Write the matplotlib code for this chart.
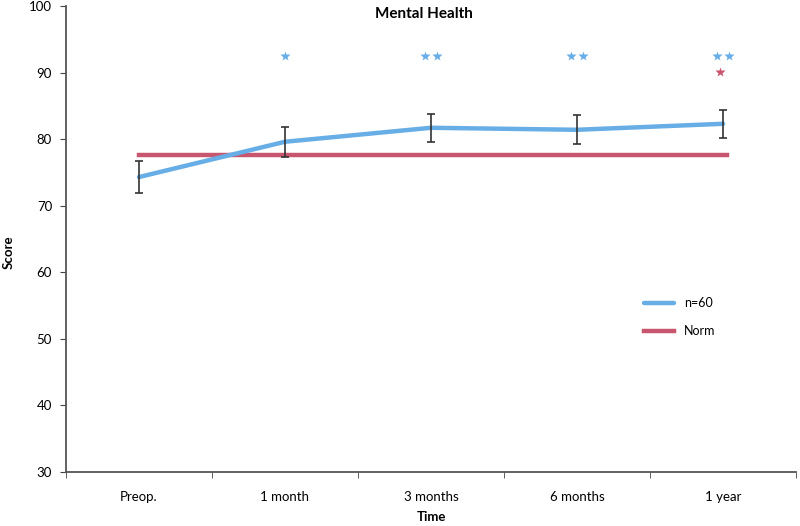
# plot

import matplotlib
matplotlib.use("Agg")
from matplotlib import pyplot as plt

plt.rcParams['font.family'] = ['Lato', 'DejaVu Sans']

categories = ["Preop.", "1 month", "3 months", "6 months", "1 year"]
scores = [74.3, 79.6, 81.7, 81.4, 82.3]
errors = [2.4, 2.25, 2.1, 2.15, 2.1]
norm_value = 77.6

# significance stars: (category index, number of stars)
blue_stars = [(1, 1), (2, 2), (3, 2), (4, 2)]
blue_star_y = 92.5
red_stars = [(4, 1)]
red_star_y = 90.1

blue = "#68aee6"
red = "#c9566f"

W, H = 800, 526
fig = plt.figure(figsize=(W / 100, H / 100), dpi=100)
ax = fig.add_axes([0.0825, 0.1027, 0.9125, 0.886])

x = list(range(len(categories)))
ax.plot(x, scores, color=blue, lw=3.2, label="n=60", solid_capstyle="round", zorder=3)
ax.errorbar(x, scores, yerr=errors, fmt="none", ecolor="#333333", elinewidth=1.2,
            capsize=3, capthick=1.2, zorder=4)
ax.plot([x[0], x[-1] + 0.03], [norm_value, norm_value], color=red, lw=3.2,
        label="Norm", zorder=2)

for i, n in blue_stars:
    offs = [0] if n == 1 else [-0.04, 0.04]
    for o in offs:
        ax.plot(i + o, blue_star_y, marker="*", color=blue, ms=7, mec="none")
for i, n in red_stars:
    ax.plot(i - 0.02, red_star_y, marker="*", color=red, ms=7, mec="none")

ax.set_xlim(-0.5, 4.5)
ax.set_ylim(30, 100)
ax.set_yticks(range(30, 101, 10))
ax.set_xticks(x)
ax.set_xticklabels(categories, fontsize=9.5)
ax.set_xticks([i + 0.5 for i in range(-1, 5)], minor=True)
ax.tick_params(axis="x", which="major", length=0, pad=14)
ax.tick_params(axis="x", which="minor", length=4, direction="out", color="#444444")
ax.tick_params(axis="y", length=4, direction="out", labelsize=9.5, color="#444444", pad=6)

for s in ["top", "right"]:
    ax.spines[s].set_visible(False)
for s in ["left", "bottom"]:
    ax.spines[s].set_color("#555555")
    ax.spines[s].set_linewidth(1.3)

fig.text(424 / W, 1 - 14 / H, "Mental Health", fontsize=11, fontweight="bold",
         ha="center", va="center")
fig.text(431 / W, 1 - 517 / H, "Time", fontsize=9.5, fontweight="bold",
         ha="center", va="center")
fig.text(9 / W, 1 - 252 / H, "Score", fontsize=9.5, fontweight="bold",
         ha="center", va="center", rotation=90)

fig.legend(*ax.get_legend_handles_labels(), loc="center left",
           bbox_to_anchor=(644 / W, 1 - 317 / H), frameon=False, fontsize=9,
           handlelength=2.4, labelspacing=1.3, borderpad=0, borderaxespad=0,
           handletextpad=0.8)

plt.savefig("out.png", dpi=100)
